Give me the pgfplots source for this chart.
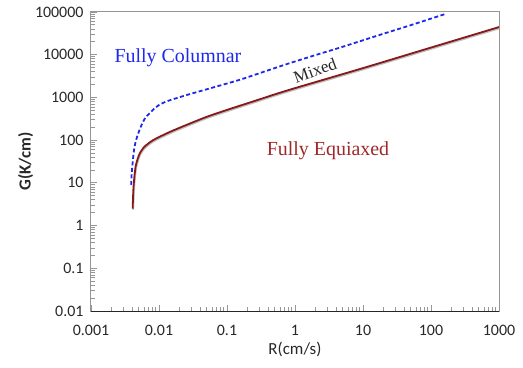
\documentclass[border=0pt]{standalone}
\usepackage{pgfplots}
\usepackage{pgfplotstable}
\pgfplotsset{compat=1.18}
\usepackage{fontspec}
\setmainfont{Carlito}
\newfontfamily\serifface{Liberation Serif}
\definecolor{bluecurve}{RGB}{30,40,235}
\definecolor{redcurve}{RGB}{135,25,25}
\definecolor{redtext}{RGB}{160,40,40}
\definecolor{axgray}{RGB}{150,150,150}
\definecolor{ticktext}{RGB}{40,40,40}
\pgfplotstableread{
R G
0.0041 2.5
0.0042 7
0.00435 14
0.00455 25
0.0049 38
0.00525 50
0.006 68
0.0074 90
0.0082 100
0.01 118
0.015 160
0.025 225
0.05 350
0.1 510
0.155 640
0.3 900
0.48 1150
1 1650
10 4860
100 14700
1000 44400
}\equiaxed
\pgfplotstableread{
R G
0.0039 9
0.00395 15
0.0041 30
0.0043 60
0.0046 100
0.005 150
0.0055 220
0.0062 320
0.0074 440
0.0088 570
0.0104 690
0.013 810
0.018 960
0.0286 1200
0.06 1680
0.155 2600
0.4 4300
0.8 6200
2 9800
5 15300
10 21800
20 31000
50 49000
100 70000
170 92000
}\columnar
\begin{document}
\begin{tikzpicture}
\path (-91bp,-57bp) rectangle (432bp,311bp);
\begin{axis}[
  at={(0,0)}, anchor=south west,
  scale only axis, width=408bp, height=299bp,
  xmode=log, ymode=log,
  xmin=0.001, xmax=1000, ymin=0.01, ymax=100000,
  xtick={0.001,0.01,0.1,1,10,100,1000},
  xticklabels={0.001,0.01,0.1,1,10,100,1000},
  ytick={0.01,0.1,1,10,100,1000,10000,100000},
  yticklabels={0.01,0.1,1,10,100,1000,10000,100000},
  tick pos=left,
  tick align=inside,
  major tick length=6bp, minor tick length=4bp,
  every tick/.style={axgray, line width=0.8bp},
  axis line style={axgray, line width=1bp},
  ticklabel style={font=\fontsize{16}{18}\selectfont, text=ticktext},
  yticklabel style={xshift=-4bp},
  xticklabel style={yshift=-11bp},
  xlabel={R(cm/s)}, ylabel={\bfseries G(K/cm)},
  label style={font=\fontsize{17}{19}\selectfont, text=ticktext},
  xlabel style={yshift=1bp},
  ylabel style={yshift=-5bp},
  clip=true,
]
\addplot[black!25, line width=1.8bp, smooth, tension=0.5, transform canvas={xshift=0.6bp,yshift=-1.2bp}] table[x=R,y=G] {\equiaxed};
\addplot[redcurve, line width=1.8bp, smooth, tension=0.5] table[x=R,y=G] {\equiaxed};
\addplot[bluecurve, line width=1.8bp, dash pattern=on 4bp off 2.5bp, smooth, tension=0.5] table[x=R,y=G] {\columnar};
\node[text=bluecurve, font=\serifface\fontsize{20}{22}\selectfont] at (axis cs:0.019,8400) {Fully Columnar};
\node[text=redtext, font=\serifface\fontsize{20}{22}\selectfont] at (axis cs:3.06,56) {Fully Equiaxed};
\node[text=black!85, rotate=20, inner sep=0pt, font=\serifface\fontsize{17}{19}\selectfont] at (axis cs:1.97,4300) {Mixed};
\draw[black!85, line width=1bp] (rel axis cs:0,0) -- (rel axis cs:1,0);
\end{axis}
\end{tikzpicture}
\end{document}
